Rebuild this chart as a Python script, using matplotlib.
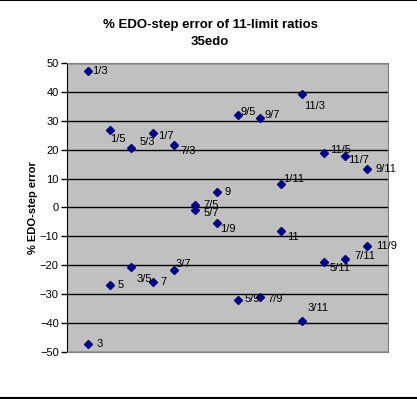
import matplotlib.pyplot as plt
from matplotlib.lines import Line2D

plt.rcParams['font.family'] = ['Liberation Sans', 'DejaVu Sans']

# ratio pairs: each x slot holds a ratio and its inverse
slots = [1, 2, 3, 4, 5, 6, 7, 8, 9, 10, 11, 12, 13, 14]
upper_labels = ['1/3', '1/5', '5/3', '1/7', '7/3', '7/5', '9',
                '9/5', '9/7', '1/11', '11/3', '11/5', '11/7', '9/11']
upper_errors = [47.4, 26.7, 20.6, 25.8, 21.6, 1.0, 5.3,
                32.0, 31.0, 8.0, 39.4, 18.7, 17.7, 13.3]
lower_labels = ['3', '5', '3/5', '7', '3/7', '5/7', '1/9',
                '5/9', '7/9', '11', '3/11', '5/11', '7/11', '11/9']
lower_errors = [-47.4, -26.7, -20.6, -25.8, -21.6, -1.0, -5.3,
                -32.0, -31.0, -8.0, -39.4, -18.7, -17.7, -13.3]

# label offsets in pixels (dx, dy), dy measured downwards like the screenshot
upper_offsets = [(4, 0), (0, 9), (8, -6), (5, 3), (6, 6), (8, 0), (8, 0),
                 (2, -3), (5, -3), (2, -5), (2, 12), (6, -3), (3, 4), (9, 0)]
lower_offsets = [(8, 0), (8, 0), (5, 12), (8, 0), (2, -6), (8, 3), (3, 6),
                 (6, -1), (8, 2), (6, 6), (5, -13), (6, 6), (9, -3), (9, 0)]

fig = plt.figure(figsize=(4.17, 3.99), dpi=100)
ax = fig.add_axes([67 / 417, 1 - 352 / 399, 321 / 417, 289 / 399])
ax.set_facecolor('#c0c0c0')

ax.plot(slots, upper_errors, linestyle='none', marker='D', markersize=4.5,
        color='#000080', zorder=3, clip_on=False)
ax.plot(slots, lower_errors, linestyle='none', marker='D', markersize=4.5,
        color='#000080', zorder=3, clip_on=False)

for x, y, lab, (dx, dy) in zip(slots, upper_errors, upper_labels, upper_offsets):
    ax.annotate(lab, (x, y), xytext=(dx, -dy), textcoords='offset pixels',
                ha='left', va='center', fontsize=8, zorder=4)
for x, y, lab, (dx, dy) in zip(slots, lower_errors, lower_labels, lower_offsets):
    ax.annotate(lab, (x, y), xytext=(dx, -dy), textcoords='offset pixels',
                ha='left', va='center', fontsize=8, zorder=4)

ax.set_xlim(0, 15)
ax.set_ylim(-50, 50)
ax.set_yticks(range(-50, 51, 10))
ax.set_xticks([])
ax.yaxis.grid(True, color='black', linewidth=1)
ax.set_axisbelow(True)
ax.tick_params(axis='y', direction='out', length=4, width=1, labelsize=8, pad=2)

for side in ['top', 'right', 'bottom']:
    ax.spines[side].set_color('#808080')
ax.spines['left'].set_color('black')

ax.set_ylabel('% EDO-step error', fontsize=8, fontweight='bold', labelpad=1)
fig.text(0.5035, 1 - 25 / 399, '% EDO-step error of 11-limit ratios',
         ha='center', va='center', fontsize=9.5, fontweight='bold')
fig.text(0.5035, 1 - 42 / 399, '35edo',
         ha='center', va='center', fontsize=9.5, fontweight='bold')

# chart frame lines at top and bottom of the picture
fig.add_artist(Line2D([0, 1], [0.999, 0.999], color='black', linewidth=1.5))
fig.add_artist(Line2D([0, 1], [0.002, 0.002], color='black', linewidth=1.5))

fig.savefig('out.png', dpi=100)
